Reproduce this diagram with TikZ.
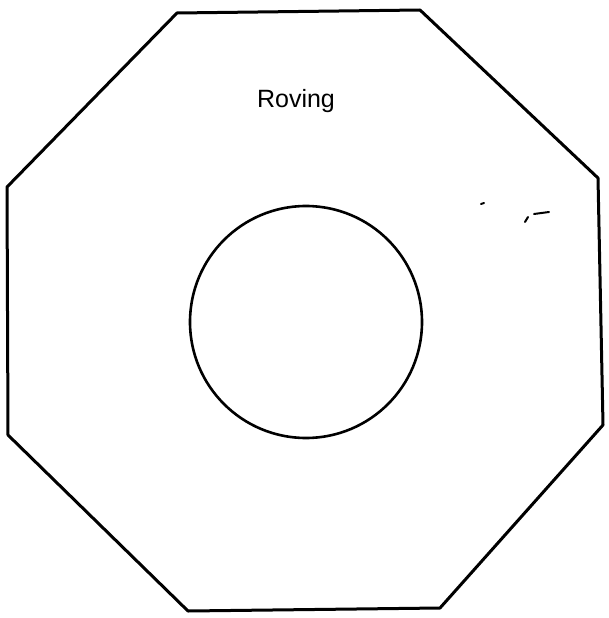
\documentclass[tikz,border=0pt]{standalone}
\usepackage{fontspec}
\setmainfont{Liberation Sans}
\begin{document}
\begin{tikzpicture}[x=1pt,y=-1pt,
  outline/.style={draw=black,line width=3pt,line join=round,line cap=round},
  speck/.style={draw=black,line width=2pt,line cap=round},
  lbl/.style={font=\fontsize{25}{28}\selectfont,inner sep=0pt}]
\useasboundingbox (0,0) rectangle (608,618);
\coordinate (p1) at (177,13);
\coordinate (p2) at (420,10);
\coordinate (p3) at (598,178);
\coordinate (p4) at (603,425);
\coordinate (p5) at (440,608);
\coordinate (p6) at (188,611);
\coordinate (p7) at (8,435);
\coordinate (p8) at (7,187);
\draw[outline] (p1) -- (p2) -- (p3) -- (p4) -- (p5) -- (p6) -- (p7) -- (p8) -- cycle;
\node[outline,circle,minimum size=232pt,inner sep=0pt,line width=2.6pt] (hole) at (306,322) {};
\node[lbl] (roving) at (296,101) {Roving};
\coordinate (s1) at (481,204);
\coordinate (s2) at (484,203);
\draw[speck] (s1) -- (s2);
\coordinate (s3) at (534,214);
\coordinate (s4) at (549,212);
\draw[speck] (s3) -- (s4);
\coordinate (s5) at (525,222);
\coordinate (s6) at (528,217);
\draw[speck] (s5) -- (s6);
\end{tikzpicture}
\end{document}
